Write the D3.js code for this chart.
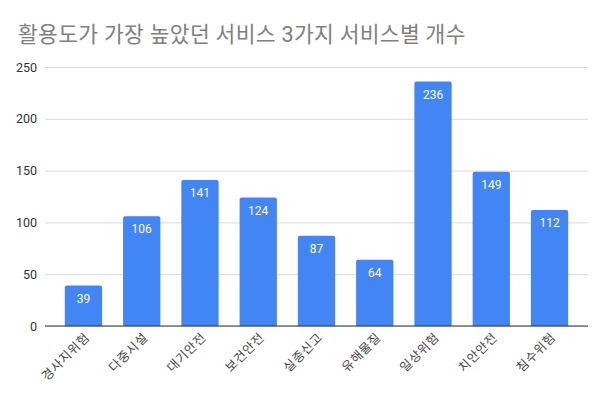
<!DOCTYPE html>
<html>
<head>
<meta charset="utf-8">
<script src="https://cdn.jsdelivr.net/npm/d3@7"></script>
<style>
    body { margin: 0; background: #fff; }
    text { font-family: Roboto, "Noto Sans CJK KR", sans-serif; }
</style>
</head>
<body>
<div id="chart"></div>
<script>
const categories = ["경사지위험", "다중시설", "대기안전", "보건안전", "실종신고", "유해물질", "일상위험", "치안안전", "침수위험"];
const counts = [39, 106, 141, 124, 87, 64, 236, 149, 112];
const yTicks = [0, 50, 100, 150, 200, 250];
const title = "활용도가 가장 높았던 서비스 3가지 서비스별 개수";

const width = 607;
const height = 404;
const margin = {top: 67, right: 19, bottom: 78, left: 45};

const svg = d3.select("#chart").append("svg")
    .attr("width", width)
    .attr("height", height);

svg.append("text")
    .attr("x", 18)
    .attr("y", 42)
    .attr("font-size", 21.5)
    .attr("letter-spacing", 0.3)
    .attr("fill", "#808080")
    .attr("font-family", "\"Noto Sans CJK KR\", sans-serif")
    .text(title);

const x = d3.scaleBand()
    .domain(categories)
    .range([margin.left, width - margin.right])
    .paddingInner(0.36)
    .paddingOuter(0.34);

const y = d3.scaleLinear()
    .domain([0, 250])
    .range([height - margin.bottom, margin.top]);

// gridlines + y labels
const yAxis = svg.append("g")
    .attr("transform", `translate(${margin.left},0)`)
    .call(d3.axisLeft(y).tickValues(yTicks).tickSize(-(width - margin.left - margin.right)).tickPadding(8));
yAxis.select(".domain").remove();
yAxis.selectAll(".tick line").attr("stroke", "#d9d9d9");
yAxis.selectAll(".tick text")
    .attr("font-size", 12.5)
    .attr("fill", "#333");

// bars with slightly rounded tops
svg.selectAll(".bar").data(categories).enter().append("path")
    .attr("class", "bar")
    .attr("fill", "#4285f4")
    .attr("d", (d, i) => {
        const x0 = x(d), w = x.bandwidth();
        const y0 = y(counts[i]), y1 = y(0), r = 2;
        return `M${x0},${y1}V${y0 + r}Q${x0},${y0} ${x0 + r},${y0}H${x0 + w - r}Q${x0 + w},${y0} ${x0 + w},${y0 + r}V${y1}Z`;
    });

// value labels
svg.selectAll(".val").data(categories).enter().append("text")
    .attr("class", "val")
    .attr("x", d => x(d) + x.bandwidth() / 2)
    .attr("y", (d, i) => y(counts[i]) + 17)
    .attr("text-anchor", "middle")
    .attr("font-size", 12)
    .attr("fill", "#fff")
    .text((d, i) => counts[i]);

// baseline
svg.append("line")
    .attr("x1", margin.left)
    .attr("x2", width - margin.right)
    .attr("y1", y(0))
    .attr("y2", y(0))
    .attr("stroke", "#333")
    .attr("stroke-width", 1);

// x labels rotated
svg.selectAll(".xl").data(categories).enter().append("text")
    .attr("class", "xl")
    .attr("transform", d => `translate(${x(d) + x.bandwidth() / 2 + 7},${y(0) + 12}) rotate(-45)`)
    .attr("text-anchor", "end")
    .attr("font-size", 12.5)
    .attr("letter-spacing", 0.8)
    .attr("fill", "#444")
    .attr("font-family", "\"Noto Sans CJK KR\", sans-serif")
    .text(d => d);
</script>
</body>
</html>
